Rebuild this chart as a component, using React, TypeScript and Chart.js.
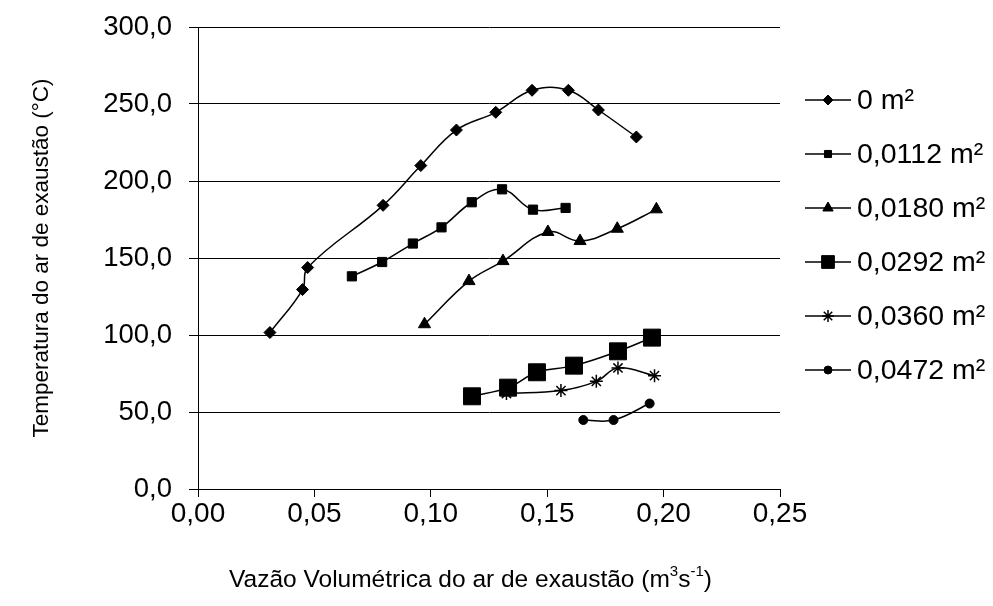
import React, { useEffect, useRef } from "react";
import { Chart, registerables } from "chart.js";
import { drawPoint } from "chart.js/helpers";

Chart.register(...registerables);

const seriesLabels = ["0 m²", "0,0112 m²", "0,0180 m²", "0,0292 m²", "0,0360 m²", "0,0472 m²"];

const x0 = [0.0309, 0.0449, 0.0471, 0.0795, 0.0957, 0.111, 0.1279, 0.1435, 0.1591, 0.172, 0.1883];
const y0 = [101.6, 129.5, 143.8, 184.2, 210.0, 233.1, 244.6, 258.9, 258.9, 246.1, 228.6];

const x1 = [0.0661, 0.0791, 0.0923, 0.1046, 0.1176, 0.1306, 0.1439, 0.1579];
const y1 = [138.1, 147.4, 159.4, 169.9, 186.2, 194.6, 181.4, 182.5];

const x2 = [0.0973, 0.1164, 0.131, 0.1503, 0.1641, 0.1801, 0.1969];
const y2 = [107.0, 135.0, 148.0, 166.9, 161.0, 169.0, 181.6];

const x3 = [0.1177, 0.1332, 0.1456, 0.1615, 0.1804, 0.195];
const y3 = [60.2, 65.8, 75.8, 80.1, 89.4, 98.3];

const x4 = [0.1325, 0.1559, 0.1711, 0.1804, 0.1961];
const y4 = [62.0, 63.9, 69.9, 78.6, 73.6];

const x5 = [0.1655, 0.1785, 0.194];
const y5 = [44.8, 44.8, 55.5];

const xTicks = [0, 0.05, 0.1, 0.15, 0.2, 0.25];
const yTicks = [0, 50, 100, 150, 200, 250, 300];

const xTitleParts = [
  { t: "Vazão Volumétrica do ar de exaustão (m", sup: false },
  { t: "3", sup: true },
  { t: "s", sup: false },
  { t: "-1", sup: true },
  { t: ")", sup: false },
];
const yTitle = "Temperatura do ar de exaustão (°C)";

const xsAll = [x0, x1, x2, x3, x4, x5];
const ysAll = [y0, y1, y2, y3, y4, y5];
const styles = ["rectRot", "rect", "triangle", "rect", "star", "circle"];
const radii = [6, 6.5, 7, 12, 6.5, 4.5];

const FONT = "'Liberation Sans', Arial, sans-serif";

const legendPlugin = {
  id: "sideLegend",
  afterDraw(chart: any) {
    const ctx = chart.ctx;
    ctx.save();
    chart.data.datasets.forEach((ds: any, i: number) => {
      const y = 100 + i * 54;
      ctx.strokeStyle = "#000";
      ctx.fillStyle = "#000";
      ctx.lineWidth = 1.5;
      ctx.beginPath();
      ctx.moveTo(805, y);
      ctx.lineTo(851, y);
      ctx.stroke();
      ctx.lineWidth = ds.pointStyle === "star" ? 1.5 : 1;
      drawPoint(ctx, { pointStyle: ds.pointStyle, radius: ds.legendRadius, rotation: 0, borderWidth: ctx.lineWidth }, 828, y);
      ctx.font = "28.5px " + FONT;
      ctx.textBaseline = "middle";
      ctx.textAlign = "left";
      ctx.fillStyle = "#000";
      ctx.fillText(ds.label, 857, y + 1);
    });
    ctx.restore();
  },
};

function xTitlePartsWidths(ctx: any, main: string, small: string) {
  return xTitleParts.map((p) => {
    ctx.font = p.sup ? small : main;
    return ctx.measureText(p.t).width;
  });
}

const xTitlePlugin = {
  id: "xTitleSup",
  afterDraw(chart: any) {
    const ctx = chart.ctx;
    ctx.save();
    ctx.fillStyle = "#000";
    ctx.textAlign = "left";
    ctx.textBaseline = "alphabetic";
    const main = "24.5px " + FONT;
    const small = "15px " + FONT;
    let total = 0;
    xTitlePartsWidths(ctx, main, small).forEach((w) => (total += w));
    let x = 470.5 - total / 2;
    const base = 587;
    xTitleParts.forEach((p) => {
      ctx.font = p.sup ? small : main;
      ctx.fillText(p.t, x, p.sup ? base - 11 : base);
      x += ctx.measureText(p.t).width;
    });
    ctx.restore();
  },
};

export default function App() {
  const ref = useRef<HTMLCanvasElement>(null);
  useEffect(() => {
    const datasets = xsAll.map((xs, i) => ({
      label: seriesLabels[i],
      data: xs.map((x, j) => ({ x, y: ysAll[i][j] })),
      showLine: true,
      tension: 0.4,
      borderColor: "#000",
      backgroundColor: "#000",
      borderWidth: 1.5,
      pointStyle: styles[i],
      pointRadius: radii[i],
      pointBorderWidth: styles[i] === "star" ? 1.5 : 1,
      pointBorderColor: "#000",
      pointBackgroundColor: "#000",
      legendRadius: [5, 5, 6, 9, 6, 4][i],
    }));
    const chart = new Chart(ref.current as HTMLCanvasElement, {
      type: "scatter",
      data: { datasets: datasets as any },
      options: {
        responsive: false,
        animation: false,
        layout: { padding: { left: 0, top: 27, right: 213, bottom: 0 } },
        plugins: { legend: { display: false }, tooltip: { enabled: false } },
        scales: {
          x: {
            type: "linear",
            min: 0,
            max: 0.25,
            afterFit: (s: any) => {
              s.height = 117;
              s.paddingLeft = 0;
              s.paddingRight = 0;
            },
            afterBuildTicks: (s: any) => { s.ticks = xTicks.map((v) => ({ value: v })); },
            ticks: {
              color: "#000",
              font: { family: FONT, size: 28 },
              padding: 0,
              maxRotation: 0,
              callback: (v: any) => Number(v).toFixed(2).replace(".", ","),
            },
            grid: { drawOnChartArea: false, drawTicks: true, tickLength: 8, color: "#000", lineWidth: 1 },
            border: { display: true, color: "#000", width: 1 },
            title: { display: false },
          },
          y: {
            type: "linear",
            min: 0,
            max: 300,
            afterFit: (s: any) => {
              s.width = 198;
              s.paddingTop = 0;
              s.paddingBottom = 0;
            },
            afterBuildTicks: (s: any) => { s.ticks = yTicks.map((v) => ({ value: v })); },
            ticks: {
              color: "#000",
              font: { family: FONT, size: 27.5 },
              padding: 17,
              callback: (v: any) => Number(v).toFixed(1).replace(".", ","),
            },
            grid: { drawTicks: true, tickLength: 9, color: "#000", lineWidth: 1 },
            border: { display: true, color: "#000", width: 1 },
            title: {
              display: true,
              text: yTitle,
              color: "#000",
              font: { family: FONT, size: 22.5 },
              padding: { top: 28, bottom: 0 },
            },
          },
        },
      },
      plugins: [legendPlugin, xTitlePlugin],
    });
    return () => chart.destroy();
  }, []);
  return (
    <div style={{ position: "fixed", left: 0, top: 0, width: 993, height: 606, background: "#fff" }}>
      <canvas ref={ref} width={993} height={606} style={{ display: "block" }} />
    </div>
  );
}
